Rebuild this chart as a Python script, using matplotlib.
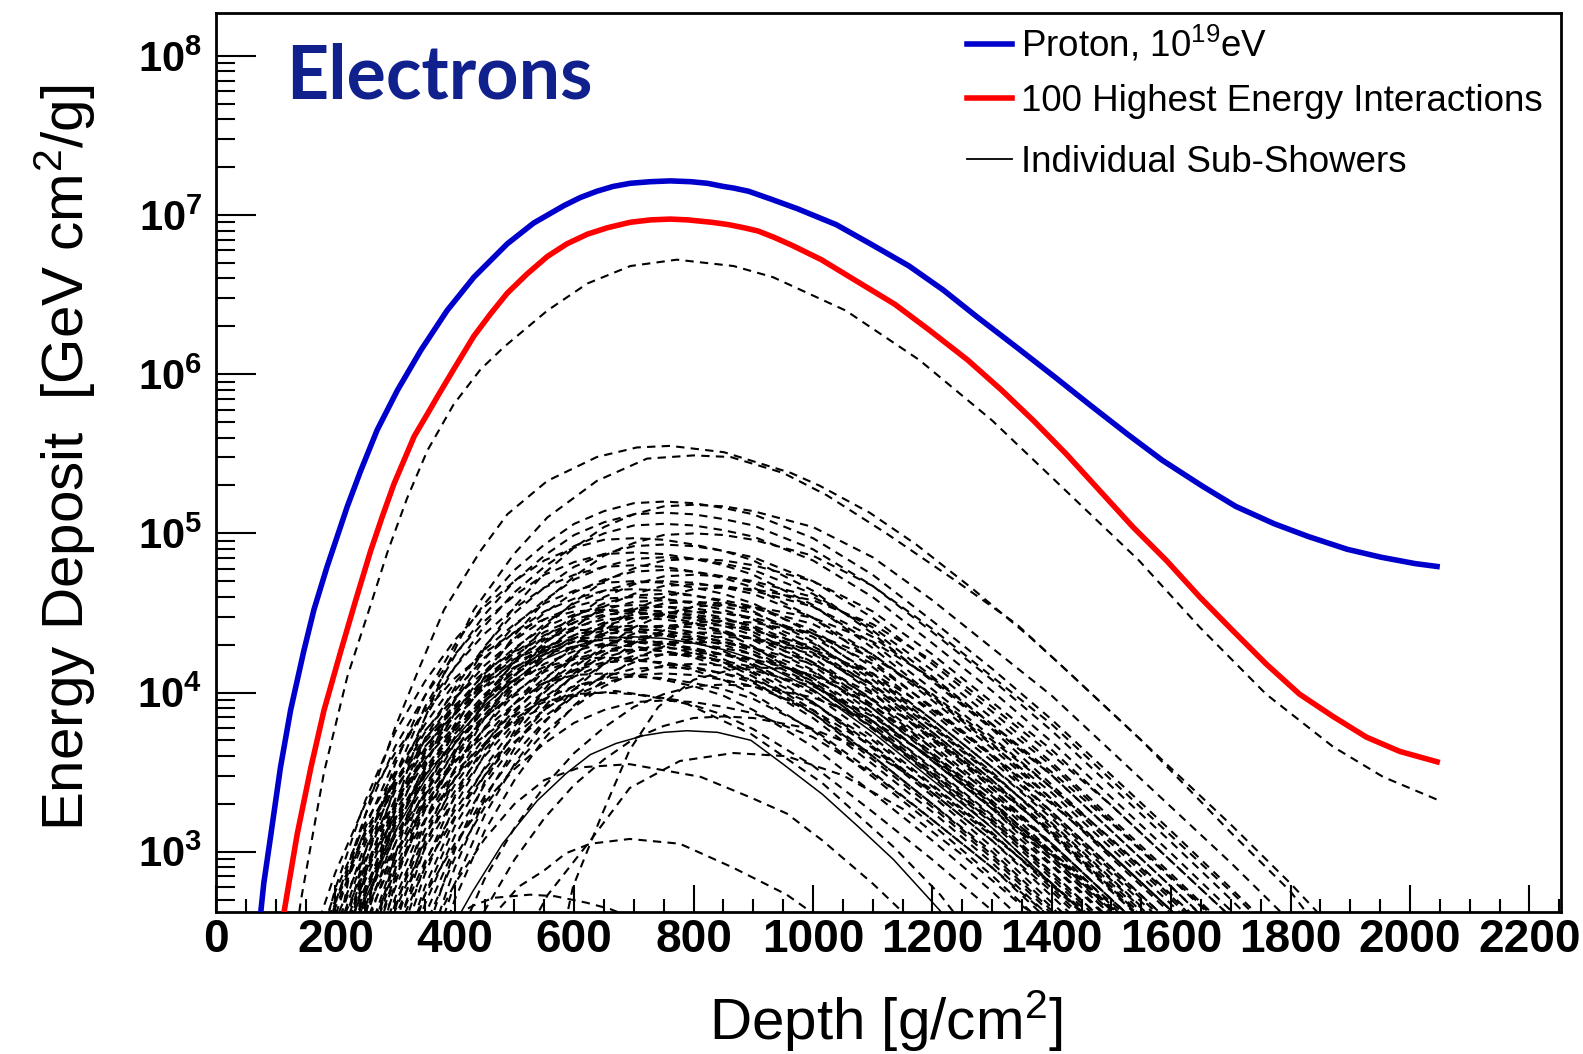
import numpy as np
import matplotlib
matplotlib.use("Agg")
import matplotlib.pyplot as plt
from matplotlib.lines import Line2D
from matplotlib.ticker import MultipleLocator, LogLocator, FixedLocator, NullFormatter, FuncFormatter

NA = np.nan

# ---- values: depth [g/cm2] and log10(energy deposit) ----
PROTON_DEPTH = [70, 75, 80, 92, 108, 125, 147, 164, 186, 220, 242, 270, 304, 343, 387, 432, 488, 532, 583, 610,
                638, 665, 694, 728, 761, 795, 823, 850, 867, 892, 930, 974, 1039, 1096, 1161, 1218, 1275, 1341,
                1406, 1463, 1528, 1585, 1651, 1708, 1773, 1830, 1895, 1952, 2009, 2050]
PROTON_LOG = [2.40, 2.62, 2.80, 3.11, 3.53, 3.89, 4.26, 4.52, 4.79, 5.17, 5.39, 5.65, 5.90, 6.15, 6.40, 6.61,
              6.82, 6.95, 7.06, 7.11, 7.15, 7.18, 7.20, 7.21, 7.215, 7.21, 7.20, 7.18, 7.17, 7.15, 7.10, 7.04,
              6.94, 6.82, 6.68, 6.53, 6.36, 6.17, 5.98, 5.81, 5.62, 5.46, 5.30, 5.17, 5.06, 4.98, 4.90, 4.85,
              4.81, 4.79]

TOP100_DEPTH = [110, 114, 122, 136, 159, 181, 209, 234, 259, 278, 298, 315, 332, 354, 371, 398, 432, 460, 488,
                521, 555, 588, 622, 655, 694, 728, 761, 790, 830, 859, 885, 908, 935, 965, 1014, 1071, 1137,
                1194, 1259, 1316, 1369, 1424, 1480, 1536, 1592, 1648, 1703, 1759, 1815, 1871, 1927, 1983, 2050]
TOP100_LOG = [2.45, 2.62, 2.80, 3.11, 3.53, 3.89, 4.26, 4.58, 4.89, 5.10, 5.31, 5.46, 5.61, 5.75, 5.86, 6.03,
              6.24, 6.38, 6.51, 6.63, 6.74, 6.82, 6.88, 6.92, 6.955, 6.97, 6.975, 6.97, 6.955, 6.94, 6.92, 6.90,
              6.86, 6.81, 6.72, 6.59, 6.44, 6.28, 6.09, 5.90, 5.71, 5.50, 5.27, 5.04, 4.83, 4.60, 4.39, 4.18,
              3.99, 3.85, 3.72, 3.63, 3.56]

# individually readable sub-showers
SUB_TRACES = {
    "lead": ([130, 142, 181, 220, 259, 287, 320, 354, 398, 443, 482, 555, 622, 694, 772, 867, 933, 1055,
              1178, 1300, 1423, 1546, 1648, 1759, 1871, 1955, 2050],
             [2.35, 2.69, 3.50, 4.10, 4.55, 4.88, 5.22, 5.52, 5.81, 6.03, 6.17, 6.40, 6.57, 6.68, 6.72, 6.68,
              6.61, 6.40, 6.09, 5.71, 5.27, 4.83, 4.41, 3.99, 3.66, 3.47, 3.32]),
    "a": ([205, 230, 260, 300, 340, 382, 443, 488, 555, 638, 705, 761, 851, 963, 1011, 1095, 1173, 1268,
           1363, 1413, 1550, 1700, 1800, 1850],
          [2.50, 2.98, 3.35, 3.78, 4.15, 4.52, 4.89, 5.12, 5.33, 5.48, 5.54, 5.55, 5.51, 5.38, 5.30, 5.13,
           4.93, 4.65, 4.35, 4.18, 3.70, 3.12, 2.75, 2.50]),
    "b": ([245, 270, 310, 350, 390, 432, 499, 555, 638, 722, 800, 862, 950, 1023, 1123, 1240, 1341, 1436,
           1550, 1700, 1800, 1870],
          [2.52, 2.89, 3.39, 3.84, 4.19, 4.52, 4.87, 5.10, 5.33, 5.47, 5.49, 5.48, 5.38, 5.24, 5.00, 4.70,
           4.43, 4.10, 3.70, 3.17, 2.80, 2.52]),
    "l1": ([230, 250, 300, 350, 400, 450, 500, 586, 669, 777, 896, 1016, 1135, 1213, 1250],
           [2.45, 2.63, 3.00, 3.27, 3.50, 3.68, 3.82, 3.97, 4.01, 3.95, 3.74, 3.43, 3.03, 2.73, 2.55]),
    "l2": ([400, 430, 480, 538, 586, 627, 670, 717, 750, 789, 840, 896, 950, 1016, 1075, 1135, 1220],
           [2.55, 2.75, 3.05, 3.32, 3.49, 3.61, 3.68, 3.73, 3.75, 3.76, 3.75, 3.70, 3.55, 3.36, 3.16, 2.95, 2.60]),
    "l3": ([360, 400, 450, 500, 550, 610, 693, 812, 896, 956, 1016, 1100, 1170],
           [2.50, 2.80, 3.08, 3.30, 3.45, 3.53, 3.55, 3.47, 3.34, 3.24, 3.07, 2.80, 2.55]),
    "l4": ([460, 507, 549, 586, 627, 693, 777, 866, 956, 986, 1010],
           [2.58, 2.78, 2.88, 2.99, 3.05, 3.08, 3.05, 2.90, 2.73, 2.65, 2.58]),
    "r1": ([585, 598, 645, 693, 741, 800, 880, 960, 1050, 1150, 1250, 1350, 1450, 1530],
           [2.55, 2.78, 3.22, 3.64, 3.91, 4.08, 4.16, 4.15, 4.05, 3.85, 3.57, 3.22, 2.85, 2.55]),
    "r2": ([530, 556, 627, 693, 777, 867, 956, 1050, 1150, 1250, 1350, 1430],
           [2.55, 2.73, 3.07, 3.40, 3.57, 3.62, 3.60, 3.48, 3.27, 2.98, 2.66, 2.45]),
    "low": ([380, 430, 465, 526, 568, 620, 660, 700],
            [2.55, 2.66, 2.71, 2.73, 2.72, 2.68, 2.64, 2.58]),
}
SOLID_TRACES = ["l2"]

# the dense bundle, log10 values on a common depth grid
DEPTH_GRID = [150, 200, 250, 300, 350, 400, 450, 500, 550, 600, 650, 700, 750, 800, 850, 900,
              1000, 1100, 1200, 1300, 1400, 1500, 1600, 1700, 1800, 1900, 2000, 2050]
BUNDLE_LOG = [
    [NA, 2.30, 3.00, 3.55, 3.98, 4.30, 4.56, 4.77, 4.93, 5.06, 5.14, 5.19, 5.20, 5.19, 5.16, 5.12, 4.97, 4.74, 4.45, 4.15, 3.83, 3.48, 3.13, 2.77, 2.40],
    [NA, NA, 2.28, 2.98, 3.53, 3.96, 4.28, 4.54, 4.75, 4.91, 5.04, 5.12, 5.17, 5.18, 5.17, 5.14, 5.04, 4.85, 4.58, 4.28, 3.98, 3.63, 3.28, 2.93, 2.56, 2.18],
    [NA, 2.23, 2.93, 3.48, 3.91, 4.23, 4.49, 4.70, 4.86, 4.99, 5.07, 5.12, 5.13, 5.12, 5.09, 5.05, 4.90, 4.67, 4.38, 4.08, 3.76, 3.41, 3.06, 2.70, 2.33],
    [NA, 2.16, 2.86, 3.41, 3.84, 4.16, 4.42, 4.63, 4.79, 4.92, 5.00, 5.05, 5.06, 5.05, 5.02, 4.98, 4.83, 4.60, 4.31, 4.01, 3.69, 3.34, 2.99, 2.63, 2.26],
    [NA, NA, 2.10, 2.80, 3.35, 3.78, 4.10, 4.36, 4.57, 4.73, 4.86, 4.94, 4.99, 5.00, 4.99, 4.96, 4.86, 4.67, 4.40, 4.10, 3.80, 3.45, 3.10, 2.75, 2.38],
    [2.07, 2.77, 3.32, 3.75, 4.07, 4.33, 4.54, 4.70, 4.83, 4.91, 4.96, 4.97, 4.96, 4.93, 4.89, 4.83, 4.64, 4.37, 4.07, 3.77, 3.42, 3.07, 2.72, 2.35],
    [NA, 2.03, 2.73, 3.28, 3.71, 4.03, 4.29, 4.50, 4.66, 4.79, 4.87, 4.92, 4.93, 4.92, 4.89, 4.85, 4.70, 4.47, 4.18, 3.88, 3.56, 3.21, 2.86, 2.50],
    [1.98, 2.68, 3.23, 3.66, 3.98, 4.24, 4.45, 4.61, 4.74, 4.82, 4.87, 4.88, 4.87, 4.84, 4.80, 4.74, 4.55, 4.28, 3.98, 3.68, 3.33, 2.98, 2.63, 2.26],
    [NA, NA, 1.94, 2.64, 3.19, 3.62, 3.94, 4.20, 4.41, 4.57, 4.70, 4.78, 4.83, 4.84, 4.83, 4.80, 4.70, 4.51, 4.24, 3.94, 3.64, 3.29, 2.94, 2.59],
    [1.90, 2.60, 3.15, 3.58, 3.90, 4.16, 4.37, 4.53, 4.66, 4.74, 4.79, 4.80, 4.79, 4.76, 4.72, 4.66, 4.47, 4.20, 3.90, 3.60, 3.25, 2.90, 2.55],
    [NA, 1.87, 2.57, 3.12, 3.55, 3.87, 4.13, 4.34, 4.50, 4.63, 4.71, 4.76, 4.77, 4.76, 4.73, 4.69, 4.54, 4.31, 4.02, 3.72, 3.40, 3.05, 2.70, 2.34],
    [NA, NA, 1.84, 2.54, 3.09, 3.52, 3.84, 4.10, 4.31, 4.47, 4.60, 4.68, 4.73, 4.74, 4.73, 4.70, 4.60, 4.41, 4.14, 3.84, 3.54, 3.19, 2.84, 2.49],
    [1.80, 2.50, 3.05, 3.48, 3.80, 4.06, 4.27, 4.43, 4.56, 4.64, 4.69, 4.70, 4.69, 4.66, 4.62, 4.56, 4.37, 4.10, 3.80, 3.50, 3.15, 2.80, 2.45],
    [NA, NA, 1.78, 2.48, 3.03, 3.46, 3.78, 4.04, 4.25, 4.41, 4.54, 4.62, 4.67, 4.68, 4.67, 4.64, 4.54, 4.35, 4.08, 3.78, 3.48, 3.13, 2.78, 2.43],
    [2.20, 2.75, 3.18, 3.50, 3.76, 3.97, 4.13, 4.26, 4.34, 4.39, 4.40, 4.39, 4.36, 4.32, 4.26, 4.17, 3.94, 3.65, 3.35, 3.03, 2.68, 2.33],
    [NA, NA, 2.42, 2.97, 3.40, 3.72, 3.98, 4.19, 4.35, 4.48, 4.56, 4.61, 4.62, 4.61, 4.58, 4.54, 4.39, 4.16, 3.87, 3.57, 3.25, 2.90, 2.55],
    [NA, 2.40, 2.95, 3.38, 3.70, 3.96, 4.17, 4.33, 4.46, 4.54, 4.59, 4.60, 4.59, 4.56, 4.52, 4.46, 4.27, 4.00, 3.70, 3.40, 3.05, 2.70, 2.35],
    [NA, NA, NA, 2.37, 2.92, 3.35, 3.67, 3.93, 4.14, 4.30, 4.43, 4.51, 4.56, 4.57, 4.56, 4.53, 4.43, 4.24, 3.97, 3.67, 3.37, 3.02, 2.67, 2.32],
    [2.15, 2.70, 3.13, 3.45, 3.71, 3.92, 4.08, 4.21, 4.29, 4.34, 4.35, 4.34, 4.31, 4.27, 4.21, 4.12, 3.89, 3.60, 3.30, 2.98, 2.63, 2.28],
    [NA, 2.32, 2.87, 3.30, 3.62, 3.88, 4.09, 4.25, 4.38, 4.46, 4.51, 4.52, 4.51, 4.48, 4.44, 4.38, 4.19, 3.92, 3.62, 3.32, 2.97, 2.62, 2.27],
    [NA, NA, 2.30, 2.85, 3.28, 3.60, 3.86, 4.07, 4.23, 4.36, 4.44, 4.49, 4.50, 4.49, 4.46, 4.42, 4.27, 4.04, 3.75, 3.45, 3.13, 2.78, 2.43],
    [NA, 2.27, 2.82, 3.25, 3.57, 3.83, 4.04, 4.20, 4.33, 4.41, 4.46, 4.47, 4.46, 4.43, 4.39, 4.33, 4.14, 3.87, 3.57, 3.27, 2.92, 2.57],
    [2.10, 2.65, 3.08, 3.40, 3.66, 3.87, 4.03, 4.16, 4.24, 4.29, 4.30, 4.29, 4.26, 4.22, 4.16, 4.07, 3.84, 3.55, 3.25, 2.93, 2.58],
    [NA, NA, 2.22, 2.77, 3.20, 3.52, 3.78, 3.99, 4.15, 4.28, 4.36, 4.41, 4.42, 4.41, 4.38, 4.34, 4.19, 3.96, 3.67, 3.37, 3.05, 2.70, 2.35],
    [NA, 2.20, 2.75, 3.18, 3.50, 3.76, 3.97, 4.13, 4.26, 4.34, 4.39, 4.40, 4.39, 4.36, 4.32, 4.26, 4.07, 3.80, 3.50, 3.20, 2.85, 2.50],
    [NA, NA, NA, 2.18, 2.73, 3.16, 3.48, 3.74, 3.95, 4.11, 4.24, 4.32, 4.37, 4.38, 4.37, 4.34, 4.24, 4.05, 3.78, 3.48, 3.18, 2.83, 2.48],
    [NA, 2.15, 2.70, 3.13, 3.45, 3.71, 3.92, 4.08, 4.21, 4.29, 4.34, 4.35, 4.34, 4.31, 4.27, 4.21, 4.02, 3.75, 3.45, 3.15, 2.80, 2.45],
    [NA, NA, 2.12, 2.67, 3.10, 3.42, 3.68, 3.89, 4.05, 4.18, 4.26, 4.31, 4.32, 4.31, 4.28, 4.24, 4.09, 3.86, 3.57, 3.27, 2.95, 2.60],
    [2.02, 2.57, 3.00, 3.32, 3.58, 3.79, 3.95, 4.08, 4.16, 4.21, 4.22, 4.21, 4.18, 4.14, 4.08, 3.99, 3.76, 3.47, 3.17, 2.85, 2.50],
    [NA, 2.07, 2.62, 3.05, 3.37, 3.63, 3.84, 4.00, 4.13, 4.21, 4.26, 4.27, 4.26, 4.23, 4.19, 4.13, 3.94, 3.67, 3.37, 3.07, 2.72, 2.37],
    [NA, NA, NA, 2.05, 2.60, 3.03, 3.35, 3.61, 3.82, 3.98, 4.11, 4.19, 4.24, 4.25, 4.24, 4.21, 4.11, 3.92, 3.65, 3.35, 3.05, 2.70, 2.35],
    [NA, 2.00, 2.55, 2.98, 3.30, 3.56, 3.77, 3.93, 4.06, 4.14, 4.19, 4.20, 4.19, 4.16, 4.12, 4.06, 3.87, 3.60, 3.30, 3.00, 2.65, 2.30],
    [NA, NA, 1.96, 2.51, 2.94, 3.26, 3.52, 3.73, 3.89, 4.02, 4.10, 4.15, 4.16, 4.15, 4.12, 4.08, 3.93, 3.70, 3.41, 3.11, 2.79, 2.44],
    [NA, 1.90, 2.45, 2.88, 3.20, 3.46, 3.67, 3.83, 3.96, 4.04, 4.09, 4.10, 4.09, 4.06, 4.02, 3.96, 3.77, 3.50, 3.20, 2.90, 2.55],
    [NA, NA, NA, NA, 2.15, 2.70, 3.13, 3.45, 3.71, 3.92, 4.08, 4.21, 4.29, 4.34, 4.35, 4.34, 4.27, 4.12, 3.89, 3.60, 3.30, 2.98, 2.63, 2.28],
    [NA, NA, NA, NA, 1.85, 2.40, 2.83, 3.15, 3.41, 3.62, 3.78, 3.91, 3.99, 4.04, 4.05, 4.04, 3.97, 3.82, 3.59, 3.30, 3.00, 2.68, 2.33],
    [NA, NA, NA, NA, NA, 2.20, 2.63, 2.95, 3.21, 3.42, 3.58, 3.71, 3.79, 3.84, 3.85, 3.84, 3.77, 3.62, 3.39, 3.10, 2.80, 2.48],
    [NA, NA, NA, NA, 2.25, 2.80, 3.23, 3.55, 3.81, 4.02, 4.18, 4.31, 4.39, 4.44, 4.45, 4.44, 4.37, 4.22, 3.99, 3.70, 3.40, 3.08, 2.73, 2.38],
    [NA, NA, NA, NA, 2.35, 2.90, 3.33, 3.65, 3.91, 4.12, 4.28, 4.41, 4.49, 4.54, 4.55, 4.54, 4.47, 4.32, 4.09, 3.80, 3.50, 3.18, 2.83, 2.48],
    [1.80, 2.35, 2.78, 3.10, 3.36, 3.57, 3.73, 3.86, 3.94, 3.99, 4.00, 3.99, 3.96, 3.92, 3.86, 3.77, 3.54, 3.25, 2.95, 2.63, 2.28],
    [NA, 2.45, 3.00, 3.43, 3.75, 4.01, 4.22, 4.38, 4.51, 4.59, 4.64, 4.65, 4.64, 4.61, 4.57, 4.51, 4.32, 4.05, 3.75, 3.45, 3.10, 2.75, 2.40],
    [NA, NA, 2.28, 2.83, 3.26, 3.58, 3.84, 4.05, 4.21, 4.34, 4.42, 4.47, 4.48, 4.47, 4.44, 4.40, 4.25, 4.02, 3.73, 3.43, 3.11, 2.76, 2.41],
    [NA, 2.18, 2.73, 3.16, 3.48, 3.74, 3.95, 4.11, 4.24, 4.32, 4.37, 4.38, 4.37, 4.34, 4.30, 4.24, 4.05, 3.78, 3.48, 3.18, 2.83, 2.48],
    [NA, NA, 2.08, 2.63, 3.06, 3.38, 3.64, 3.85, 4.01, 4.14, 4.22, 4.27, 4.28, 4.27, 4.24, 4.20, 4.05, 3.82, 3.53, 3.23, 2.91, 2.56],
    [NA, NA, NA, 2.31, 2.86, 3.29, 3.61, 3.87, 4.08, 4.24, 4.37, 4.45, 4.50, 4.51, 4.50, 4.47, 4.37, 4.18, 3.91, 3.61, 3.31, 2.96, 2.61],
    [NA, NA, NA, 2.23, 2.78, 3.21, 3.53, 3.79, 4.00, 4.16, 4.29, 4.37, 4.42, 4.43, 4.42, 4.39, 4.29, 4.10, 3.83, 3.53, 3.23, 2.88, 2.53],
    [2.13, 2.68, 3.11, 3.43, 3.69, 3.90, 4.06, 4.19, 4.27, 4.32, 4.33, 4.32, 4.29, 4.25, 4.19, 4.10, 3.87, 3.58, 3.28, 2.96, 2.61],
    [NA, NA, NA, 1.98, 2.53, 2.96, 3.28, 3.54, 3.75, 3.91, 4.04, 4.12, 4.17, 4.18, 4.17, 4.14, 4.04, 3.85, 3.58, 3.28, 2.98, 2.63, 2.28],
    [NA, 1.80, 2.50, 3.05, 3.48, 3.80, 4.06, 4.27, 4.43, 4.56, 4.64, 4.69, 4.70, 4.69, 4.66, 4.62, 4.47, 4.24, 3.95, 3.65, 3.33, 2.98, 2.63, 2.27],
    [NA, NA, 2.38, 2.93, 3.36, 3.68, 3.94, 4.15, 4.31, 4.44, 4.52, 4.57, 4.58, 4.57, 4.54, 4.50, 4.35, 4.12, 3.83, 3.53, 3.21, 2.86, 2.51],
    [NA, 2.22, 2.77, 3.20, 3.52, 3.78, 3.99, 4.15, 4.28, 4.36, 4.41, 4.42, 4.41, 4.38, 4.34, 4.28, 4.09, 3.82, 3.52, 3.22, 2.87, 2.52],
    [NA, NA, 2.04, 2.59, 3.02, 3.34, 3.60, 3.81, 3.97, 4.10, 4.18, 4.23, 4.24, 4.23, 4.20, 4.16, 4.01, 3.78, 3.49, 3.19, 2.87, 2.52],
    [1.92, 2.47, 2.90, 3.22, 3.48, 3.69, 3.85, 3.98, 4.06, 4.11, 4.12, 4.11, 4.08, 4.04, 3.98, 3.89, 3.66, 3.37, 3.07, 2.75, 2.40],
    [NA, NA, 1.75, 2.30, 2.73, 3.05, 3.31, 3.52, 3.68, 3.81, 3.89, 3.94, 3.95, 3.94, 3.91, 3.87, 3.72, 3.49, 3.20, 2.90, 2.58],
    [NA, 1.95, 2.65, 3.20, 3.63, 3.95, 4.21, 4.42, 4.58, 4.71, 4.79, 4.84, 4.85, 4.84, 4.81, 4.77, 4.62, 4.39, 4.10, 3.80, 3.48, 3.13, 2.78, 2.42],
    [NA, NA, NA, NA, 2.46, 3.01, 3.44, 3.76, 4.02, 4.23, 4.39, 4.52, 4.60, 4.65, 4.66, 4.65, 4.58, 4.43, 4.20, 3.91, 3.61, 3.29, 2.94, 2.59],
    [NA, 2.30, 2.85, 3.28, 3.60, 3.86, 4.07, 4.23, 4.36, 4.44, 4.49, 4.50, 4.49, 4.46, 4.42, 4.36, 4.17, 3.90, 3.60, 3.30, 2.95, 2.60],
    [NA, NA, 2.34, 2.89, 3.32, 3.64, 3.90, 4.11, 4.27, 4.40, 4.48, 4.53, 4.54, 4.53, 4.50, 4.46, 4.31, 4.08, 3.79, 3.49, 3.17, 2.82, 2.47],
    [NA, 2.12, 2.67, 3.10, 3.42, 3.68, 3.89, 4.05, 4.18, 4.26, 4.31, 4.32, 4.31, 4.28, 4.24, 4.18, 3.99, 3.72, 3.42, 3.12, 2.77, 2.42],
    [NA, NA, 2.16, 2.71, 3.14, 3.46, 3.72, 3.93, 4.09, 4.22, 4.30, 4.35, 4.36, 4.35, 4.32, 4.28, 4.13, 3.90, 3.61, 3.31, 2.99, 2.64, 2.29],
    [NA, NA, NA, 2.12, 2.67, 3.10, 3.42, 3.68, 3.89, 4.05, 4.18, 4.26, 4.31, 4.32, 4.31, 4.28, 4.18, 3.99, 3.72, 3.42, 3.12, 2.77, 2.42],
    [2.32, 2.87, 3.30, 3.62, 3.88, 4.09, 4.25, 4.38, 4.46, 4.51, 4.52, 4.51, 4.48, 4.44, 4.38, 4.29, 4.06, 3.77, 3.47, 3.15, 2.80, 2.45],
    [NA, 2.35, 2.90, 3.33, 3.65, 3.91, 4.12, 4.28, 4.41, 4.49, 4.54, 4.55, 4.54, 4.51, 4.47, 4.41, 4.22, 3.95, 3.65, 3.35, 3.00, 2.65, 2.30],
    [NA, NA, 1.92, 2.47, 2.90, 3.22, 3.48, 3.69, 3.85, 3.98, 4.06, 4.11, 4.12, 4.11, 4.08, 4.04, 3.89, 3.66, 3.37, 3.07, 2.75, 2.40],
]
SOLID_BUNDLE_ROWS = [26]

LEGEND_LABELS = ["Proton, 10$^{19}$eV", "100 Highest Energy Interactions", "Individual Sub-Showers"]

# ---- style ----
plt.rcParams["font.family"] = ["Liberation Sans", "DejaVu Sans"]
plt.rcParams["mathtext.fontset"] = "custom"
plt.rcParams["mathtext.rm"] = "Liberation Sans"
plt.rcParams["mathtext.bf"] = "Liberation Sans:bold"
plt.rcParams["mathtext.it"] = "Liberation Sans:italic"
plt.rcParams["mathtext.default"] = "regular"

BLUE = "#0000cc"
RED = "#ff0000"
DASH = dict(color="black", lw=1.5, dashes=(4, 3))

fig = plt.figure(figsize=(15.83, 10.54), dpi=100)
ax = fig.add_axes([0.13645, 0.13472, 0.98610 - 0.13645, 0.98767 - 0.13472])

grid = np.array(DEPTH_GRID, dtype=float)
for i, row in enumerate(BUNDLE_LOG):
    vals = np.array(row + [NA] * (len(grid) - len(row)), dtype=float)
    if i in SOLID_BUNDLE_ROWS:
        ax.plot(grid, 10 ** vals, color="black", lw=1.1)
    else:
        ax.plot(grid, 10 ** vals, **DASH)

for name, (d, lg) in SUB_TRACES.items():
    if name in SOLID_TRACES:
        ax.plot(d, 10 ** np.array(lg), color="black", lw=1.1)
    else:
        ax.plot(d, 10 ** np.array(lg), **DASH)

ax.plot(TOP100_DEPTH, 10 ** np.array(TOP100_LOG), color=RED, lw=4.0, solid_capstyle="butt",
        solid_joinstyle="round", zorder=5)
ax.plot(PROTON_DEPTH, 10 ** np.array(PROTON_LOG), color=BLUE, lw=4.0, solid_capstyle="butt",
        solid_joinstyle="round", zorder=6)

ax.set_yscale("log")
ax.set_xlim(0, 2253)
ax.set_ylim(10 ** 2.621, 10 ** 8.27)

ax.xaxis.set_major_locator(MultipleLocator(200))
ax.xaxis.set_minor_locator(MultipleLocator(50))
ax.yaxis.set_major_locator(FixedLocator([1e3, 1e4, 1e5, 1e6, 1e7, 1e8]))
ax.yaxis.set_minor_locator(LogLocator(base=10, subs=np.arange(2, 10)))
ax.yaxis.set_minor_formatter(NullFormatter())
ax.yaxis.set_major_formatter(FuncFormatter(lambda v, p: r"$\mathbf{10^{%d}}$" % round(np.log10(v))))
ax.xaxis.set_major_formatter(FuncFormatter(lambda v, p: "%d" % v))

ax.tick_params(axis="both", which="both", direction="in", top=False, right=False, width=1.5)
ax.tick_params(axis="x", which="major", length=19.5, pad=4, labelsize=33)
ax.tick_params(axis="x", which="minor", length=9.5)
ax.tick_params(axis="y", which="major", length=29, pad=10, labelsize=30)
ax.tick_params(axis="y", which="minor", length=14)
for lab in ax.get_xticklabels():
    lab.set_fontweight("bold")
for s in ax.spines.values():
    s.set_linewidth(2.0)

ax.text(0.0525, 0.905, "Electrons", transform=ax.transAxes, family="Lato", fontweight="bold",
        fontsize=53, color="#10208c", va="baseline", ha="left")

handles = [Line2D([], [], color=BLUE, lw=4.0),
           Line2D([], [], color=RED, lw=4.0),
           Line2D([], [], color="black", lw=1.3)]
leg_kw = dict(bbox_transform=fig.transFigure, frameon=False, fontsize=26.5, handlelength=1.22,
              handletextpad=0.25, borderpad=0, borderaxespad=0)
leg1 = ax.legend(handles[:2], LEGEND_LABELS[:2], loc="upper left", bbox_to_anchor=(0.6109, 0.977),
                 labelspacing=0.52, **leg_kw)
ax.add_artist(leg1)
ax.legend(handles[2:], LEGEND_LABELS[2:], loc="center left", bbox_to_anchor=(0.6109, 1 - 162 / 1054),
          **leg_kw)

fig.text(65 / 1583, 1 - 458 / 1054, "Energy Deposit  [GeV cm$^{2}$/g]", rotation=90,
         ha="center", va="center", fontsize=42)
fig.text(886 / 1583, 1 - 1040 / 1054, "Depth [g/cm$^{2}$]", ha="center", va="baseline", fontsize=42)

fig.savefig("out.png", dpi=100)
